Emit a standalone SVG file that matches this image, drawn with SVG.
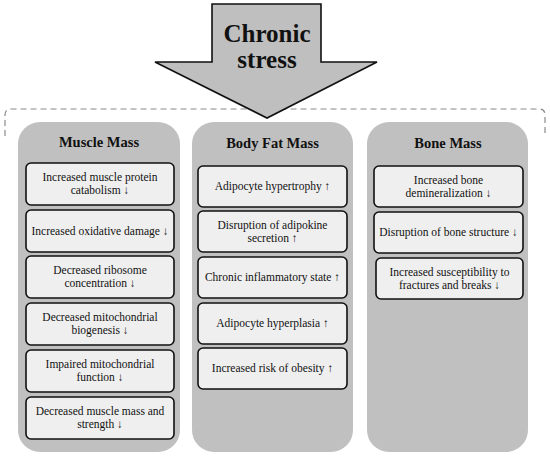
<svg xmlns="http://www.w3.org/2000/svg" width="550" height="456" viewBox="0 0 550 456">
<style>
.panel{fill:#c0c0c0;stroke:none}
.box{fill:#efefef;stroke:#111;stroke-width:1.6}
.t{font-family:"Liberation Serif","Times New Roman",serif;font-size:11.5px;fill:#111;text-anchor:middle}
.h{font-family:"Liberation Serif","Times New Roman",serif;font-size:14.5px;font-weight:bold;fill:#111;text-anchor:middle}
.big{font-family:"Liberation Serif","Times New Roman",serif;font-size:25px;font-weight:bold;fill:#111;text-anchor:middle}
</style>
<rect width="550" height="456" fill="#fff"/>
<g id="connectors">
<path d="M5 136 L5 115 Q5 109 11 109 L539 109 Q545 109 545 115 L545 134" fill="none" stroke="#8a8a8a" stroke-width="1.2" stroke-dasharray="6 4"/>
</g>
<g id="chronic-stress">
<polygon points="212,4 321,4 321,62 377,62 267,118 155,62 212,62" fill="#bfbfbf" stroke="#111" stroke-width="1.6"/>
<text class="big" x="267" y="42">Chronic</text>
<text class="big" x="267" y="68">stress</text>
</g>
<g id="muscle-mass">
<rect class="panel" x="18" y="122" width="162" height="330" rx="22"/>
<text class="h" x="99" y="147">Muscle Mass</text>
<rect class="box" x="26" y="163" width="148" height="42" rx="5"/>
<text class="t" x="100" y="181">Increased muscle protein</text>
<text class="t" x="100" y="194">catabolism ↓</text>
<rect class="box" x="26" y="210" width="148" height="42" rx="5"/>
<text class="t" x="100" y="235">Increased oxidative damage ↓</text>
<rect class="box" x="26" y="256" width="148" height="42" rx="5"/>
<text class="t" x="100" y="274">Decreased ribosome</text>
<text class="t" x="100" y="287">concentration ↓</text>
<rect class="box" x="26" y="303" width="148" height="42" rx="5"/>
<text class="t" x="100" y="321">Decreased mitochondrial</text>
<text class="t" x="100" y="334">biogenesis ↓</text>
<rect class="box" x="26" y="350" width="148" height="42" rx="5"/>
<text class="t" x="100" y="368">Impaired mitochondrial</text>
<text class="t" x="100" y="381">function ↓</text>
<rect class="box" x="26" y="397" width="148" height="42" rx="5"/>
<text class="t" x="100" y="415">Decreased muscle mass and</text>
<text class="t" x="100" y="428">strength ↓</text>
</g>
<g id="body-fat-mass">
<rect class="panel" x="192" y="122" width="161" height="330" rx="22"/>
<text class="h" x="272.5" y="148">Body Fat Mass</text>
<rect class="box" x="198" y="166" width="149" height="41" rx="5"/>
<text class="t" x="272.5" y="190">Adipocyte hypertrophy ↑</text>
<rect class="box" x="198" y="211" width="149" height="41" rx="5"/>
<text class="t" x="272.5" y="229">Disruption of adipokine</text>
<text class="t" x="272.5" y="242">secretion ↑</text>
<rect class="box" x="198" y="257" width="149" height="41" rx="5"/>
<text class="t" x="272.5" y="281">Chronic inflammatory state ↑</text>
<rect class="box" x="198" y="303" width="149" height="41" rx="5"/>
<text class="t" x="272.5" y="327">Adipocyte hyperplasia ↑</text>
<rect class="box" x="198" y="348" width="149" height="41" rx="5"/>
<text class="t" x="272.5" y="372">Increased risk of obesity ↑</text>
</g>
<g id="bone-mass">
<rect class="panel" x="367" y="122" width="161" height="330" rx="22"/>
<text class="h" x="448" y="148">Bone Mass</text>
<rect class="box" x="374" y="166" width="149" height="41" rx="5"/>
<text class="t" x="448.5" y="184">Increased bone</text>
<text class="t" x="448.5" y="197">demineralization ↓</text>
<rect class="box" x="374" y="212" width="149" height="41" rx="5"/>
<text class="t" x="448.5" y="236">Disruption of bone structure ↓</text>
<rect class="box" x="376" y="258" width="147" height="41" rx="5"/>
<text class="t" x="449.5" y="276">Increased susceptibility to</text>
<text class="t" x="449.5" y="289">fractures and breaks ↓</text>
</g>
</svg>
